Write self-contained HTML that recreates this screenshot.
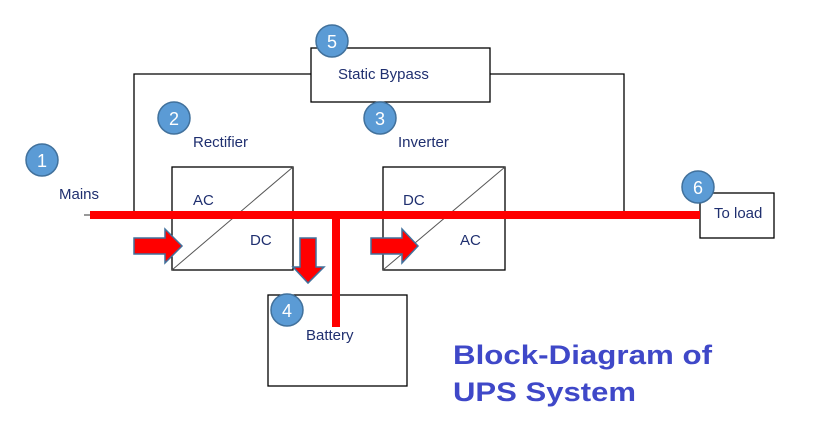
<!DOCTYPE html>
<html><head><meta charset="utf-8"><style>html,body{margin:0;padding:0;background:#fff}svg{display:block}</style></head>
<body>
<svg width="817" height="429" viewBox="0 0 817 429" xmlns="http://www.w3.org/2000/svg" font-family="Liberation Sans, sans-serif">
<rect width="817" height="429" fill="#fff"/>
<g fill="none" stroke="#000" stroke-width="1.3">
<polyline points="134,212 134,74 311,74"/>
<polyline points="490,74 624,74 624,212"/>
<rect x="311" y="48" width="179" height="54" fill="#fff"/>
<rect x="172" y="167" width="121" height="103"/>
<rect x="383" y="167" width="122" height="103"/>
<rect x="268" y="295" width="139" height="91"/>
<rect x="700" y="193" width="74" height="45"/>
</g>
<g stroke="#555" stroke-width="1">
<line x1="172" y1="270" x2="293" y2="167"/>
<line x1="383" y1="270" x2="505" y2="167"/>
</g>
<line x1="84" y1="215" x2="90" y2="215" stroke="#333" stroke-width="1"/>
<rect x="90" y="211" width="610" height="8" fill="#f00"/>
<rect x="332" y="215" width="8" height="112" fill="#f00"/>
<g fill="#f00" stroke="#41719c" stroke-width="1.5">
<polygon points="134,238 165,238 165,229 182,246 165,263 165,254 134,254"/>
<polygon points="371,238 402,238 402,229 418,246 402,263 402,254 371,254"/>
<polygon points="300,238 316,238 316,267 324,267 308,283 293,267 300,267"/>
</g>
<g fill="#5b9bd5" stroke="#41719c" stroke-width="1.5">
<circle cx="42" cy="160" r="16"/>
<circle cx="174" cy="118" r="16"/>
<circle cx="380" cy="118" r="16"/>
<circle cx="287" cy="310" r="16"/>
<circle cx="332" cy="41" r="16"/>
<circle cx="698" cy="187" r="16"/>
</g>
<g fill="#fff" font-size="18" text-anchor="middle">
<text x="42" y="167">1</text>
<text x="174" y="125">2</text>
<text x="380" y="125">3</text>
<text x="287" y="317">4</text>
<text x="332" y="48">5</text>
<text x="698" y="194">6</text>
</g>
<g fill="#1f2f6f" font-size="15">
<text x="59" y="199">Mains</text>
<text x="193" y="147">Rectifier</text>
<text x="398" y="147">Inverter</text>
<text x="338" y="79">Static Bypass</text>
<text x="193" y="205">AC</text>
<text x="250" y="245">DC</text>
<text x="403" y="205">DC</text>
<text x="460" y="245">AC</text>
<text x="306" y="340">Battery</text>
<text x="714" y="218">To load</text>
</g>
<g fill="#3f48c8" font-size="27" font-weight="bold">
<text x="453" y="364" textLength="259" lengthAdjust="spacingAndGlyphs">Block-Diagram of</text>
<text x="453" y="401" textLength="183" lengthAdjust="spacingAndGlyphs">UPS System</text>
</g>
</svg>
</body></html>
